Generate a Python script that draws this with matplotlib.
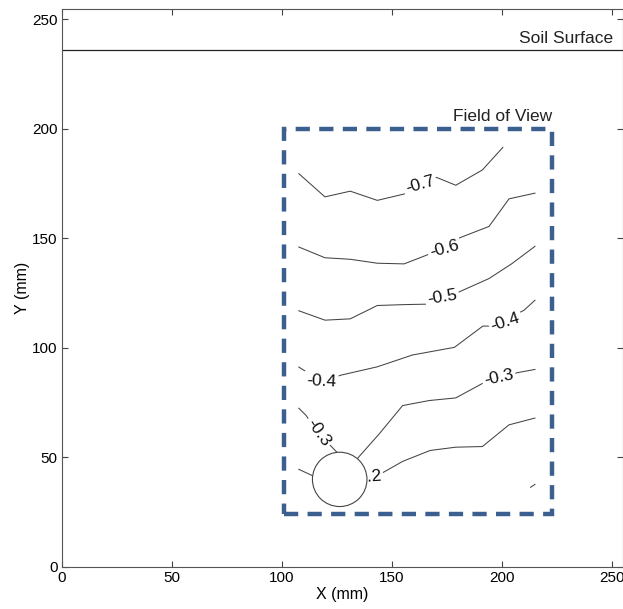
import matplotlib.pyplot as plt
from matplotlib.patches import Rectangle, Circle

plt.rcParams['font.family'] = ['Liberation Sans', 'DejaVu Sans']

# contour lines (mm)
c07_x = [107.7, 119.6, 131.1, 143.4, 155.6, 170.3, 179.1, 191.2, 200.5]
c07_y = [179.6, 169.0, 171.6, 167.4, 170.3, 177.9, 174.3, 181.3, 191.6]
c06_x = [107.7, 119.6, 131.1, 143.4, 155.6, 173.8, 180.6, 194.2, 203.3, 215.1]
c06_y = [146.1, 141.2, 140.5, 138.7, 138.4, 145.5, 150.2, 155.5, 168.1, 170.7]
c05_x = [107.7, 119.6, 131.1, 143.4, 155.6, 165.5, 180.6, 194.2, 204.6, 215.1]
c05_y = [117.0, 112.7, 113.3, 119.4, 119.8, 120.0, 125.6, 131.7, 138.5, 146.4]
c04_x = [107.7, 117.9, 126.9, 143.4, 159.4, 178.5, 191.4, 195.6, 210.1, 215.1]
c04_y = [91.3, 84.8, 87.6, 91.4, 96.8, 100.3, 110.0, 110.0, 117.2, 121.8]
c03a_x = [107.7, 111.1, 116.3, 123.1, 125.3]
c03a_y = [72.5, 69.1, 61.2, 54.4, 52.1]
c03b_x = [134.4, 144.3, 154.9, 167.0, 179.1, 191.2, 207.0, 215.1]
c03b_y = [49.6, 60.8, 73.7, 76.0, 77.2, 83.8, 88.7, 90.2]
c02a_x = [107.7, 114.1]
c02a_y = [44.6, 41.6]
c02b_x = [141.0, 145.6, 154.9, 167.4, 179.1, 191.2, 203.3, 215.1]
c02b_y = [41.0, 42.9, 48.2, 53.2, 54.7, 55.0, 64.9, 68.0]
c_bit_x = [213.1, 215.1]
c_bit_y = [36.4, 37.7]

# contour labels: text, x, y, angle
label_txt = ['-0.7', '-0.6', '-0.5', '-0.4', '-0.4', '-0.3', '-0.3', '-0.2']
label_x = [162.8, 173.8, 172.9, 117.9, 201.7, 116.6, 198.7, 138.4]
label_y = [174.5, 145.5, 123.2, 84.8, 111.9, 61.5, 86.5, 41.0]
label_rot = [16, 15, 9, -3, 18, -55, 12, 5]

root_xy = (126.3, 40.0)
root_r = 12.4
fov = (101, 24, 122, 176)  # x, y, width, height
soil_y = 236

fig = plt.figure(figsize=(6.23, 6.09), dpi=100)
ax = fig.add_axes([0.0995, 0.069, 0.9, 0.917])

line_kw = dict(color='#444444', lw=0.75)
for xs, ys in [(c07_x, c07_y), (c06_x, c06_y), (c05_x, c05_y), (c04_x, c04_y),
               (c03a_x, c03a_y), (c03b_x, c03b_y), (c02a_x, c02a_y),
               (c02b_x, c02b_y), (c_bit_x, c_bit_y)]:
    ax.plot(xs, ys, **line_kw)

for t, x, y, r in zip(label_txt, label_x, label_y, label_rot):
    ax.text(x, y, t, rotation=r, ha='center', va='center', fontsize=12.5,
            rotation_mode='anchor', color='#111111',
            bbox=dict(boxstyle='square,pad=0.12', fc='white', ec='none'), zorder=3)

ax.add_patch(Circle(root_xy, root_r, fc='white', ec='#444444', lw=0.8, zorder=4))

ax.add_patch(Rectangle(fov[:2], fov[2], fov[3], fill=False, ec='#3b5f8e',
                       lw=3.2, ls=(0, (3.2, 2.1)), zorder=5))
ax.text(fov[0] + fov[2], fov[1] + fov[3] + 2.3, 'Field of View', ha='right',
        va='bottom', fontsize=12.5, color='#222222')

ax.axhline(soil_y, color='#222222', lw=0.9)
ax.text(250.5, soil_y + 2, 'Soil Surface', ha='right', va='bottom',
        fontsize=12.5, color='#222222')

ax.set_xlim(0, 255)
ax.set_ylim(0, 255)
ax.set_xticks([0, 50, 100, 150, 200, 250])
ax.set_yticks([0, 50, 100, 150, 200, 250])
ax.tick_params(direction='in', top=True, right=True, labelsize=11,
               length=4, color='#444444', pad=3)
for s in ax.spines.values():
    s.set_color('#555555')
ax.set_xlabel('X (mm)', fontsize=11.5, labelpad=1)
ax.set_ylabel('Y (mm)', fontsize=11.5, labelpad=2)

fig.savefig('out.png', dpi=100)
